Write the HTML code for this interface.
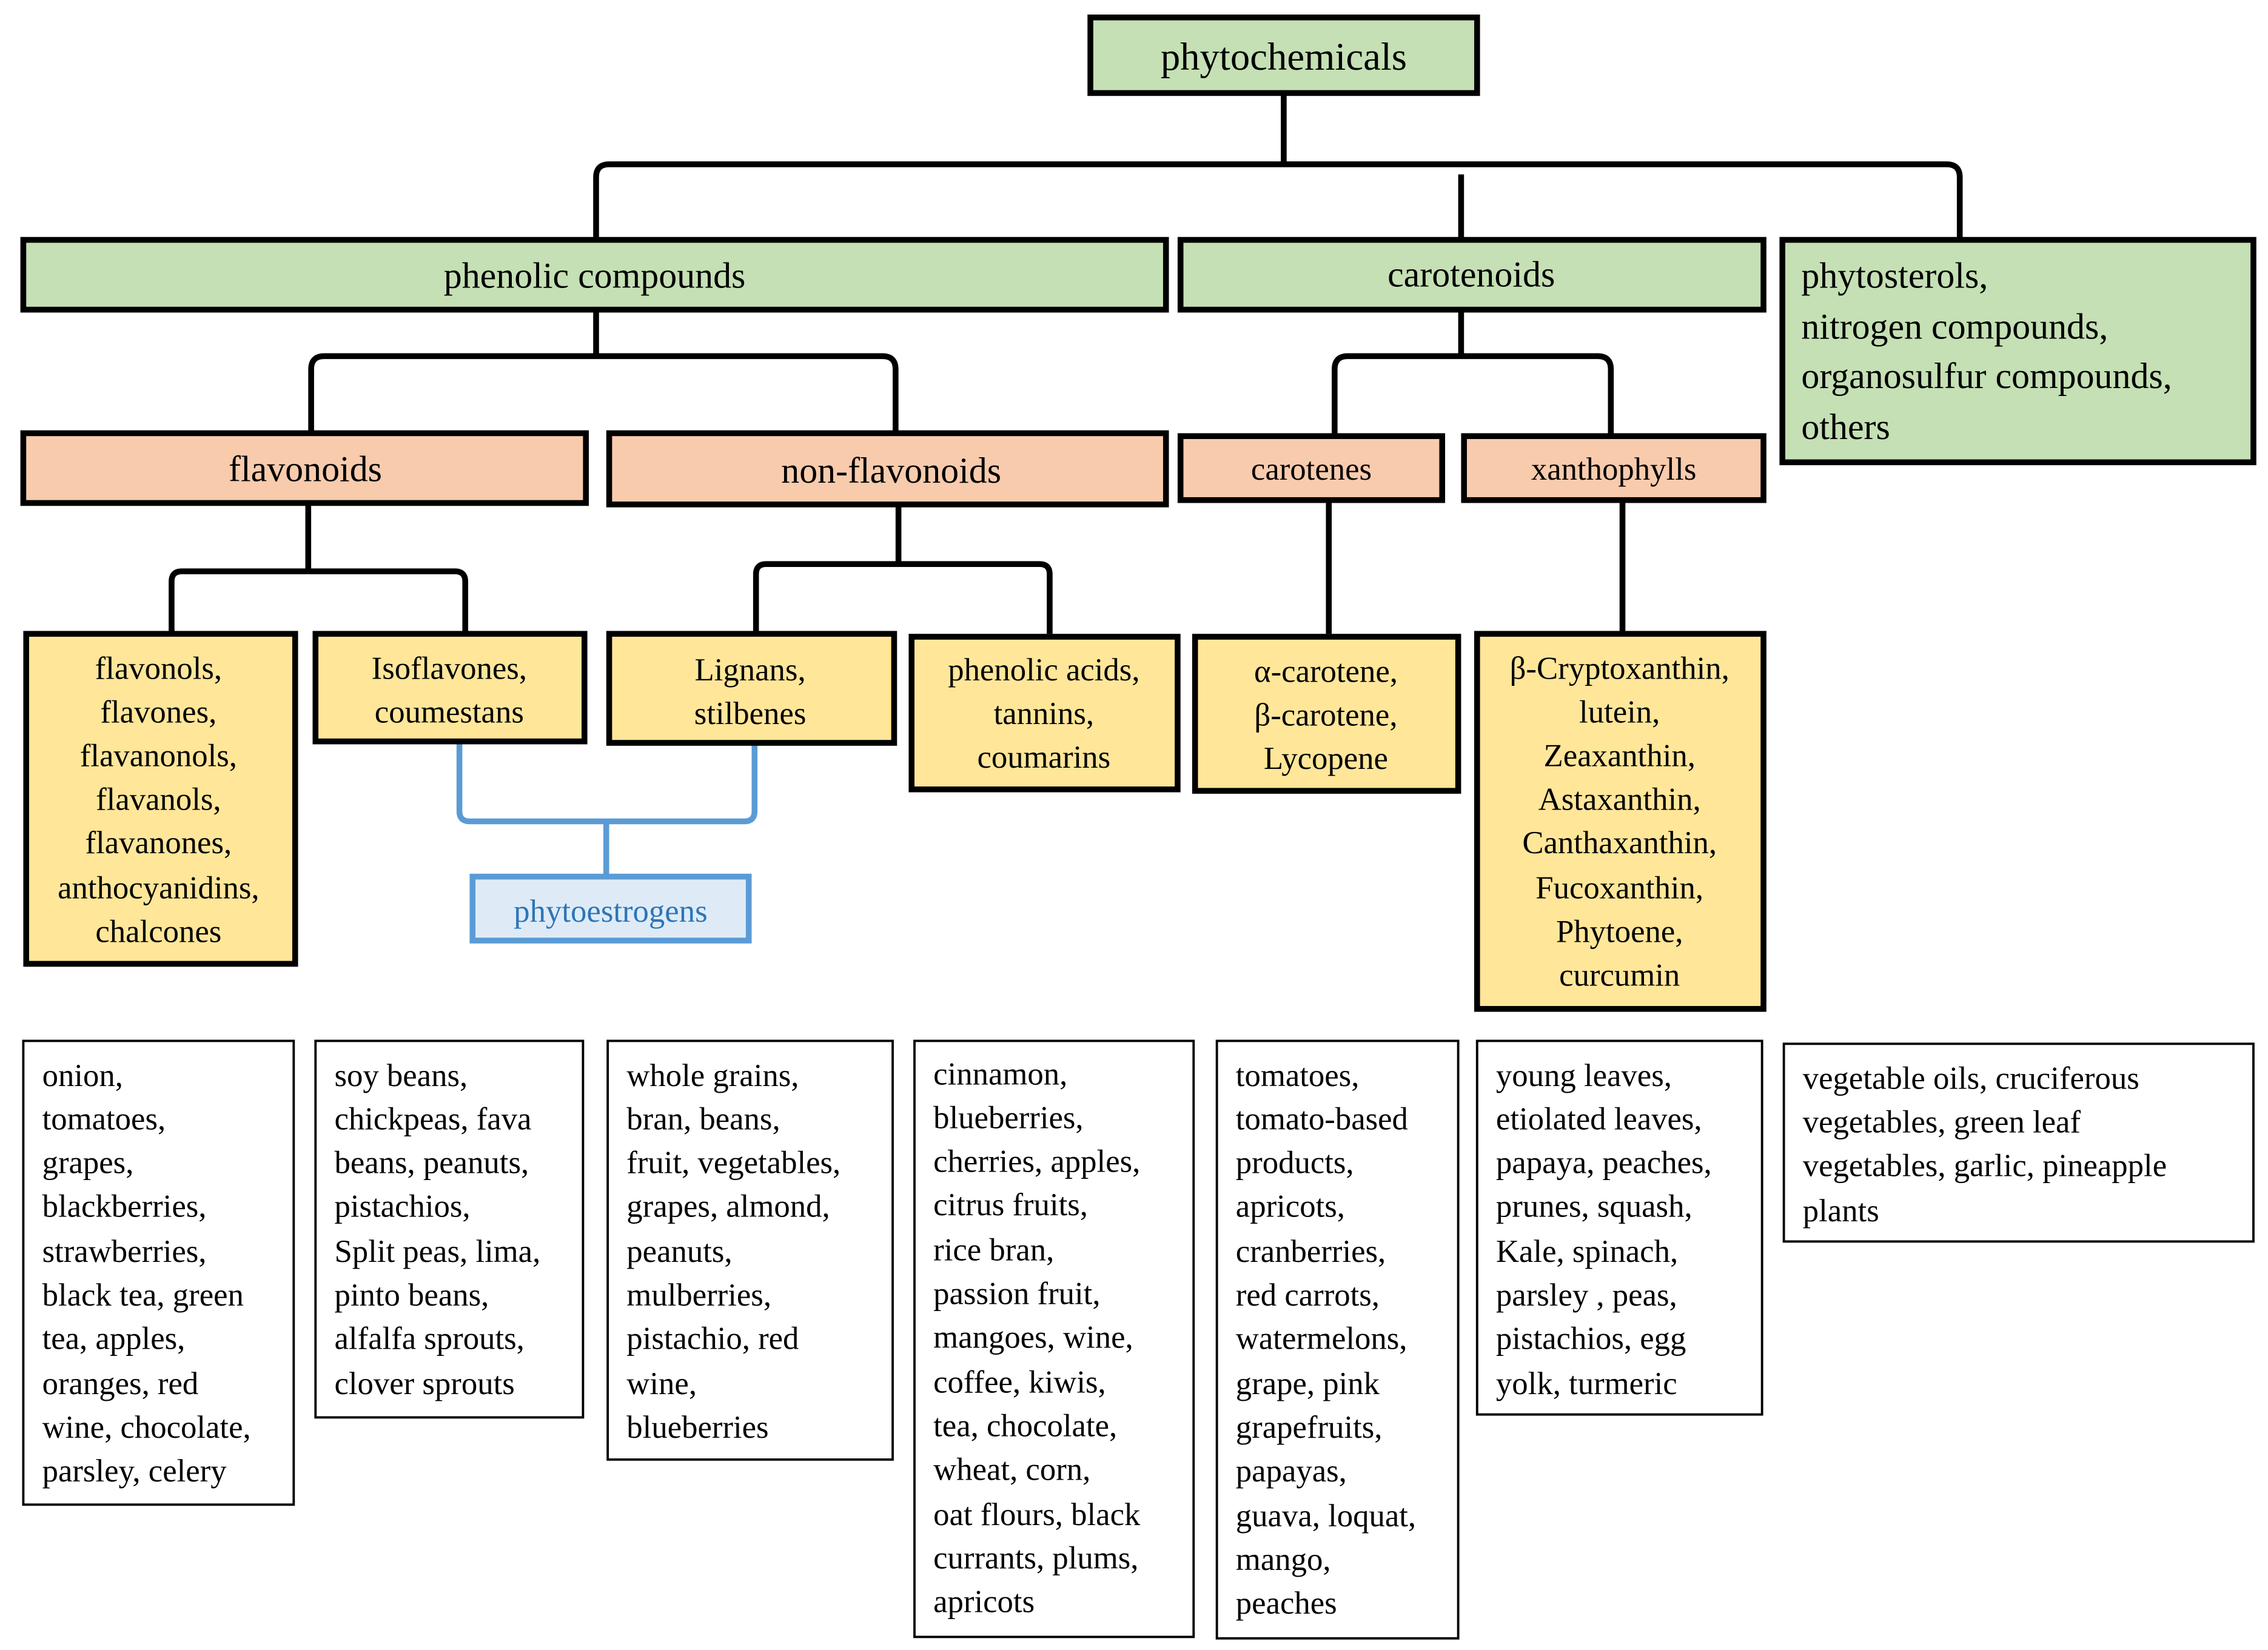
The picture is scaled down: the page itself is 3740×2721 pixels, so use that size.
<!DOCTYPE html>
<html><head><meta charset="utf-8"><style>
html,body{margin:0;padding:0;background:#fff;}
svg{display:block;}
svg text{font-family:"Liberation Serif","DejaVu Serif",serif;fill:#000;}
</style></head><body>
<svg width="3740" height="2721" viewBox="0 0 1560 1135" xmlns="http://www.w3.org/2000/svg" font-family="'Liberation Serif', serif">
<g fill="none" stroke="#000" stroke-width="4" stroke-linejoin="round">
<path d="M883 64 V113"/>
<path d="M410 165 V122 Q410 113 419 113 H1339 Q1348 113 1348 122 V165"/>
<path d="M1005 120 V165"/>
<path d="M410 213 V245"/>
<path d="M214 298 V254 Q214 245 223 245 H607 Q616 245 616 254 V298"/>
<path d="M1005 213 V245"/>
<path d="M918 300 V254 Q918 245 927 245 H1099 Q1108 245 1108 254 V300"/>
<path d="M212 346 V393"/>
<path d="M118 436 V400 Q118 393 125 393 H313 Q320 393 320 400 V436"/>
<path d="M618 347 V388"/>
<path d="M520 436 V395 Q520 388 527 388 H715 Q722 388 722 395 V436"/>
<path d="M914 344 V436"/>
<path d="M1116 344 V436"/>
</g>
<g fill="none" stroke="#5b9bd5" stroke-width="4">
<path d="M316 510 V558 Q316 565 323 565 H512 Q519 565 519 558 V511"/>
<path d="M417 565 V603"/>
</g>
<g stroke="#000" stroke-width="4">
<rect x="750" y="12" width="266" height="52" fill="#c5e0b4"/>
<rect x="16" y="165" width="786" height="48" fill="#c5e0b4"/>
<rect x="812" y="165" width="401" height="48" fill="#c5e0b4"/>
<rect x="1226" y="165" width="324" height="153" fill="#c5e0b4"/>
<rect x="16" y="298" width="387" height="48" fill="#f8cbad"/>
<rect x="419" y="298" width="383" height="49" fill="#f8cbad"/>
<rect x="812" y="300" width="180" height="44" fill="#f8cbad"/>
<rect x="1007" y="300" width="206" height="44" fill="#f8cbad"/>
<rect x="18" y="436" width="185" height="227" fill="#ffe699"/>
<rect x="217" y="436" width="185" height="74" fill="#ffe699"/>
<rect x="419" y="436" width="196" height="75" fill="#ffe699"/>
<rect x="627" y="438" width="183" height="105" fill="#ffe699"/>
<rect x="822" y="438" width="181" height="106" fill="#ffe699"/>
<rect x="1016" y="436" width="197" height="258" fill="#ffe699"/>
</g>
<rect x="325" y="603" width="190" height="44" fill="#deebf7" stroke="#5b9bd5" stroke-width="4"/>
<g fill="#fff" stroke="#000" stroke-width="1.6">
<rect x="16" y="716" width="186" height="319"/>
<rect x="217" y="716" width="184" height="259"/>
<rect x="418" y="716" width="196" height="288"/>
<rect x="629" y="716" width="192" height="410"/>
<rect x="837" y="716" width="166" height="411"/>
<rect x="1016" y="716" width="196" height="257"/>
<rect x="1227" y="718" width="323" height="136"/>
</g>
<g font-size="27" text-anchor="middle">
<text x="883" y="48">phytochemicals</text>
<text x="409" y="198" font-size="25">phenolic compounds</text>
<text x="1012" y="197" font-size="25">carotenoids</text>
<text x="210" y="331" font-size="25">flavonoids</text>
<text x="613" y="332" font-size="25">non-flavonoids</text>
<text x="902" y="330" font-size="22">carotenes</text>
<text x="1110" y="330" font-size="22">xanthophylls</text>
<text x="420" y="634" font-size="22" style="fill:#2e75b6">phytoestrogens</text>
</g>
<g font-size="25">
<text x="1239" y="198">phytosterols,</text>
<text x="1239" y="233">nitrogen compounds,</text>
<text x="1239" y="267">organosulfur compounds,</text>
<text x="1239" y="302">others</text>
</g>
<g font-size="22" text-anchor="middle">
<text x="109" y="467">flavonols,</text><text x="109" y="497">flavones,</text><text x="109" y="527">flavanonols,</text><text x="109" y="557">flavanols,</text><text x="109" y="587">flavanones,</text><text x="109" y="618">anthocyanidins,</text><text x="109" y="648">chalcones</text>
<text x="309" y="467">Isoflavones,</text><text x="309" y="497">coumestans</text>
<text x="516" y="468">Lignans,</text><text x="516" y="498">stilbenes</text>
<text x="718" y="468">phenolic acids,</text><text x="718" y="498">tannins,</text><text x="718" y="528">coumarins</text>
<text x="912" y="469">α-carotene,</text><text x="912" y="499">β-carotene,</text><text x="912" y="529">Lycopene</text>
<text x="1114" y="467">β-Cryptoxanthin,</text><text x="1114" y="497">lutein,</text><text x="1114" y="527">Zeaxanthin,</text><text x="1114" y="557">Astaxanthin,</text><text x="1114" y="587">Canthaxanthin,</text><text x="1114" y="618">Fucoxanthin,</text><text x="1114" y="648">Phytoene,</text><text x="1114" y="678">curcumin</text>
</g>
<g font-size="22">
<text x="29" y="747">onion,</text><text x="29" y="777">tomatoes,</text><text x="29" y="807">grapes,</text><text x="29" y="837">blackberries,</text><text x="29" y="868">strawberries,</text><text x="29" y="898">black tea, green</text><text x="29" y="928">tea, apples,</text><text x="29" y="959">oranges, red</text><text x="29" y="989">wine, chocolate,</text><text x="29" y="1019">parsley, celery</text>
<text x="230" y="747">soy beans,</text><text x="230" y="777">chickpeas, fava</text><text x="230" y="807">beans, peanuts,</text><text x="230" y="837">pistachios,</text><text x="230" y="868">Split peas, lima,</text><text x="230" y="898">pinto beans,</text><text x="230" y="928">alfalfa sprouts,</text><text x="230" y="959">clover sprouts</text>
<text x="431" y="747">whole grains,</text><text x="431" y="777">bran, beans,</text><text x="431" y="807">fruit, vegetables,</text><text x="431" y="837">grapes, almond,</text><text x="431" y="868">peanuts,</text><text x="431" y="898">mulberries,</text><text x="431" y="928">pistachio, red</text><text x="431" y="959">wine,</text><text x="431" y="989">blueberries</text>
<text x="642" y="746">cinnamon,</text><text x="642" y="776">blueberries,</text><text x="642" y="806">cherries, apples,</text><text x="642" y="836">citrus fruits,</text><text x="642" y="867">rice bran,</text><text x="642" y="897">passion fruit,</text><text x="642" y="927">mangoes, wine,</text><text x="642" y="958">coffee, kiwis,</text><text x="642" y="988">tea, chocolate,</text><text x="642" y="1018">wheat, corn,</text><text x="642" y="1049">oat flours, black</text><text x="642" y="1079">currants, plums,</text><text x="642" y="1109">apricots</text>
<text x="850" y="747">tomatoes,</text><text x="850" y="777">tomato-based</text><text x="850" y="807">products,</text><text x="850" y="837">apricots,</text><text x="850" y="868">cranberries,</text><text x="850" y="898">red carrots,</text><text x="850" y="928">watermelons,</text><text x="850" y="959">grape, pink</text><text x="850" y="989">grapefruits,</text><text x="850" y="1019">papayas,</text><text x="850" y="1050">guava, loquat,</text><text x="850" y="1080">mango,</text><text x="850" y="1110">peaches</text>
<text x="1029" y="747">young leaves,</text><text x="1029" y="777">etiolated leaves,</text><text x="1029" y="807">papaya, peaches,</text><text x="1029" y="837">prunes, squash,</text><text x="1029" y="868">Kale, spinach,</text><text x="1029" y="898">parsley , peas,</text><text x="1029" y="928">pistachios, egg</text><text x="1029" y="959">yolk, turmeric</text>
<text x="1240" y="749">vegetable oils, cruciferous</text><text x="1240" y="779">vegetables, green leaf</text><text x="1240" y="809">vegetables, garlic, pineapple</text><text x="1240" y="840">plants</text>
</g>
</svg>
</body></html>
